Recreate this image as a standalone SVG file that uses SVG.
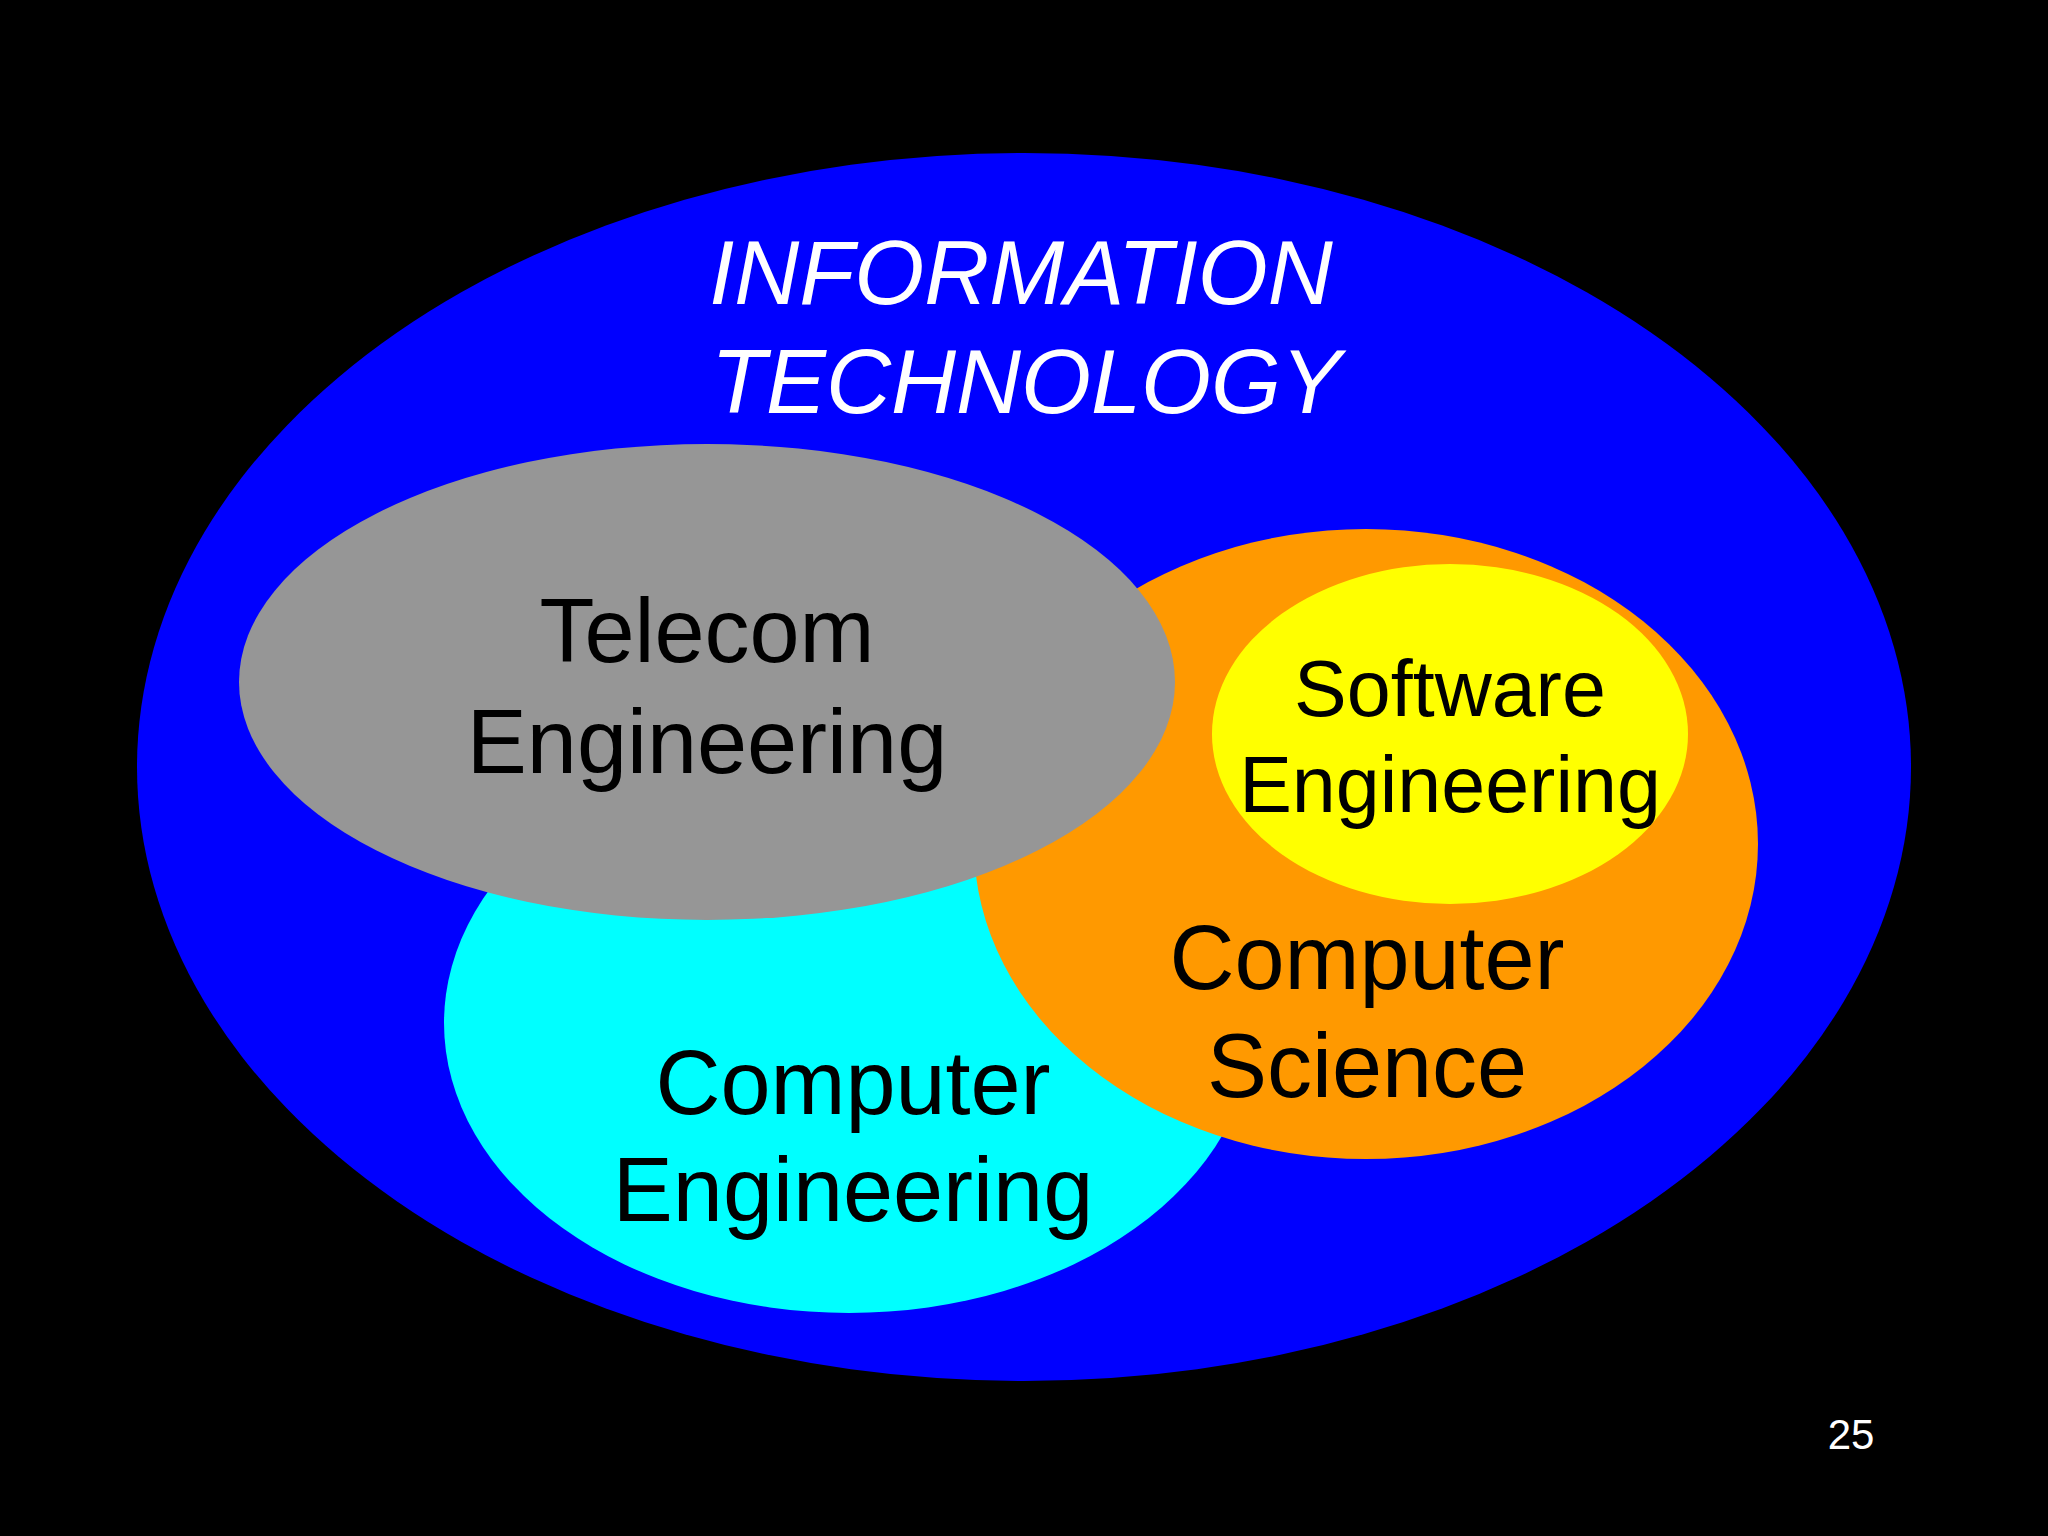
<svg xmlns="http://www.w3.org/2000/svg" width="2048" height="1536" viewBox="0 0 2048 1536">
<style>
text{font-family:"Liberation Sans",Arial,sans-serif;text-anchor:middle;}
.lbl{fill:#000;font-size:90px;}
.sw{fill:#000;font-size:79px;}
.it{fill:#fff;font-size:90px;font-style:italic;}
.pg{fill:#fff;font-size:42px;}
</style>
<rect x="0" y="0" width="2048" height="1536" fill="#000"/>
<g id="information-technology">
<ellipse cx="1024" cy="767" rx="887" ry="614" fill="#0000FF"/>
<text class="it" x="1021" y="304">INFORMATION</text>
<text class="it" x="1026" y="413">TECHNOLOGY</text>
</g>
<g id="computer-engineering">
<ellipse cx="849" cy="1023" rx="405" ry="290" fill="#00FFFF"/>
</g>
<g id="computer-science">
<ellipse cx="1366" cy="844" rx="392" ry="315" fill="#FF9900"/>
</g>
<g id="software-engineering">
<ellipse cx="1450" cy="734" rx="238" ry="170" fill="#FFFF00"/>
<text class="sw" x="1450" y="716">Software</text>
<text class="sw" x="1450" y="812">Engineering</text>
</g>
<g id="telecom-engineering">
<ellipse cx="707" cy="682" rx="468" ry="238" fill="#969696"/>
<text class="lbl" x="707" y="662">Telecom</text>
<text class="lbl" x="707" y="773">Engineering</text>
</g>
<g id="labels">
<text class="lbl" x="1367" y="989">Computer</text>
<text class="lbl" x="1367" y="1097">Science</text>
<text class="lbl" x="853" y="1114">Computer</text>
<text class="lbl" x="853" y="1221">Engineering</text>
</g>
<g id="connectors"></g>
<text class="pg" x="1851" y="1449">25</text>
</svg>
